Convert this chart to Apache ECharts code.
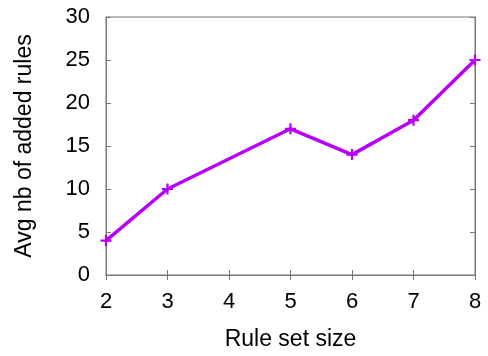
<!DOCTYPE html>
<html>
<head>
<meta charset="utf-8">
<script src="https://cdn.jsdelivr.net/npm/echarts@6/dist/echarts.min.js"></script>
<style>
  html, body { margin: 0; padding: 0; background: #fff; }
  #chart { width: 488px; height: 356px; }
</style>
</head>
<body>
<div id="chart"></div>
<script>
// rule set sizes and avg number of added rules
const ruleSetSize = [2, 3, 5, 6, 7, 8];
const addedRules = [4, 10, 17, 14, 18, 25];
const xTicks = [2, 3, 4, 5, 6, 7, 8];
const yTicks = [0, 5, 10, 15, 20, 25, 30];

const chart = echarts.init(document.getElementById('chart'));

const axisGray = '#777777';
const font = 'Liberation Sans, Arial, sans-serif';

const option = {
  animation: false,
  grid: {
    left: 106,
    right: 13,
    top: 17,
    bottom: 78,
    show: true,
    borderColor: axisGray,
    borderWidth: 1,
  },
  xAxis: [
    {
      type: 'value',
      min: xTicks[0],
      max: xTicks[xTicks.length - 1],
      interval: 1,
      name: 'Rule set size',
      nameLocation: 'middle',
      nameGap: 53,
      nameTextStyle: { color: '#000', fontSize: 23, fontFamily: font },
      axisLine: { show: true, lineStyle: { color: axisGray } },
      axisTick: { show: true, inside: true, length: 5, lineStyle: { color: axisGray } },
      axisLabel: { color: '#000', fontSize: 22, fontFamily: font, margin: 16 },
      splitLine: { show: false },
    },
    {
      type: 'value',
      position: 'top',
      min: xTicks[0],
      max: xTicks[xTicks.length - 1],
      interval: 1,
      axisLine: { show: true, lineStyle: { color: axisGray } },
      axisTick: { show: true, inside: true, length: 5, lineStyle: { color: axisGray } },
      axisLabel: { show: false },
      splitLine: { show: false },
    },
  ],
  yAxis: [
    {
      type: 'value',
      min: yTicks[0],
      max: yTicks[yTicks.length - 1],
      interval: 5,
      name: 'Avg nb of added rules',
      nameLocation: 'middle',
      nameGap: 70,
      nameTextStyle: { color: '#000', fontSize: 23, fontFamily: font },
      axisLine: { show: true, lineStyle: { color: axisGray } },
      axisTick: { show: true, inside: true, length: 5, lineStyle: { color: axisGray } },
      axisLabel: { color: '#000', fontSize: 22, fontFamily: font, margin: 16 },
      splitLine: { show: false },
    },
    {
      type: 'value',
      position: 'right',
      min: yTicks[0],
      max: yTicks[yTicks.length - 1],
      interval: 5,
      axisLine: { show: true, lineStyle: { color: axisGray } },
      axisTick: { show: true, inside: true, length: 5, lineStyle: { color: axisGray } },
      axisLabel: { show: false },
      splitLine: { show: false },
    },
  ],
  series: [
    {
      type: 'line',
      data: ruleSetSize.map((x, i) => [x, addedRules[i]]),
      symbol: 'path://M4,0H6V10H4ZM0,4H10V6H0Z',
      symbolSize: 11,
      showAllSymbol: true,
      lineStyle: { color: '#b800f8', width: 3.5 },
      itemStyle: { color: '#b800f8' },
    },
  ],
};

chart.setOption(option);
</script>
</body>
</html>
